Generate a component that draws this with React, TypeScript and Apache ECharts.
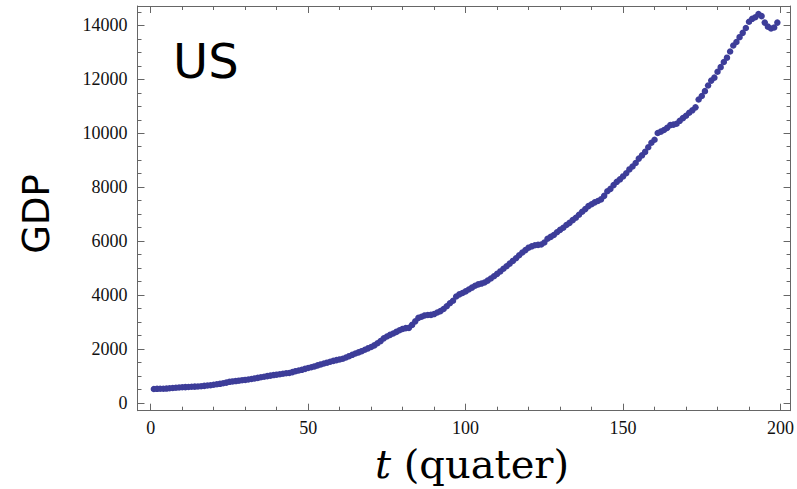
import React, { useEffect, useRef } from "react";
import * as echarts from "echarts";

// US quarterly GDP, t = 1 .. 199
const gdp: number[] = [
  525, 530, 534, 535, 540, 550, 560, 570, 580, 588,
  594, 600, 606, 612, 618, 628, 640, 652, 665, 680,
  698, 716, 738, 760, 790, 805, 818, 832, 846, 860,
  878, 896, 916, 936, 958, 980, 1000, 1020, 1040, 1055,
  1070, 1090, 1108, 1118, 1150, 1185, 1210, 1235, 1270, 1300,
  1330, 1360, 1400, 1435, 1470, 1500, 1535, 1565, 1595, 1620,
  1645, 1690, 1740, 1790, 1840, 1880, 1925, 1980, 2030, 2080,
  2140, 2220, 2300, 2400, 2470, 2530, 2580, 2640, 2700, 2750,
  2780, 2790, 2900, 3030, 3160, 3200, 3250, 3265, 3270, 3300,
  3360, 3410, 3490, 3590, 3700, 3795, 3950, 4030, 4080, 4140,
  4210, 4280, 4350, 4400, 4430, 4470, 4540, 4620, 4700, 4790,
  4880, 4980, 5070, 5170, 5270, 5370, 5480, 5580, 5670, 5760,
  5810, 5850, 5865, 5880, 5950, 6090, 6160, 6230, 6330, 6420,
  6500, 6600, 6680, 6780, 6870, 6980, 7090, 7190, 7300, 7370,
  7440, 7490, 7550, 7680, 7850, 7940, 8080, 8200, 8290, 8400,
  8520, 8660, 8770, 8900, 9060, 9180, 9310, 9480, 9650, 9760,
  10010, 10060, 10120, 10200, 10300, 10320, 10350, 10460, 10560, 10650,
  10760, 10850, 10960, 11250, 11380, 11560, 11770, 11950, 12060, 12280,
  12450, 12640, 12800, 13030, 13250, 13380, 13560, 13720, 13900, 14130,
  14240, 14300, 14420, 14340, 14100, 13950, 13880, 13920, 14100,
];

const xMajorTicks = [0, 50, 100, 150, 200];
const xMinorTicks = [10, 20, 30, 40, 60, 70, 80, 90, 110, 120, 130, 140, 160, 170, 180, 190];
const yMajorTicks = [0, 2000, 4000, 6000, 8000, 10000, 12000, 14000];
const yMinorTicks = [
  500, 1000, 1500, 2500, 3000, 3500, 4500, 5000, 5500, 6500, 7000, 7500,
  8500, 9000, 9500, 10500, 11000, 11500, 12500, 13000, 13500, 14500,
];

const X_MIN = -4.2;
const X_MAX = 203.2;
const Y_MIN = -280;
const Y_MAX = 14715;

const FRAME = "#666666";
const labelFont = { fontFamily: "Liberation Serif", fontSize: 18, color: "#111" };
const plain = (v: number) => String(Math.round(v));

function xAxisDef(position: "top" | "bottom", ticks: number[], len: number, withLine: boolean, labels: boolean) {
  return {
    type: "value",
    position,
    min: X_MIN,
    max: X_MAX,
    axisLine: { show: withLine, onZero: false, lineStyle: { color: FRAME, width: 1 } },
    axisTick: { show: true, inside: true, length: len, customValues: ticks, lineStyle: { color: FRAME, width: 1 } },
    axisLabel: labels
      ? { show: true, customValues: ticks, margin: 8, formatter: plain, ...labelFont }
      : { show: false },
    splitLine: { show: false },
  };
}

function yAxisDef(position: "left" | "right", ticks: number[], len: number, withLine: boolean, labels: boolean) {
  return {
    type: "value",
    position,
    min: Y_MIN,
    max: Y_MAX,
    axisLine: { show: withLine, onZero: false, lineStyle: { color: FRAME, width: 1 } },
    axisTick: { show: true, inside: true, length: len, customValues: ticks, lineStyle: { color: FRAME, width: 1 } },
    axisLabel: labels
      ? { show: true, customValues: ticks, margin: 10, formatter: plain, ...labelFont }
      : { show: false },
    splitLine: { show: false },
  };
}

export default function App() {
  const ref = useRef<HTMLDivElement>(null);

  useEffect(() => {
    if (!ref.current) return;
    const chart = echarts.init(ref.current, null, { renderer: "svg" });
    const points = gdp.map((v, i) => [i + 1, v]);
    chart.setOption({
      animation: false,
      backgroundColor: "#ffffff",
      grid: { left: 137.5, right: 6.3, top: 6, bottom: 78.3, containLabel: false },
      xAxis: [
        xAxisDef("bottom", xMajorTicks, 7, true, true),
        xAxisDef("bottom", xMinorTicks, 4, false, false),
        xAxisDef("top", xMajorTicks, 7, true, false),
        xAxisDef("top", xMinorTicks, 4, false, false),
      ],
      yAxis: [
        yAxisDef("left", yMajorTicks, 7, true, true),
        yAxisDef("left", yMinorTicks, 4, false, false),
        yAxisDef("right", yMajorTicks, 7, true, false),
        yAxisDef("right", yMinorTicks, 4, false, false),
      ],
      series: [
        {
          type: "scatter",
          xAxisIndex: 0,
          yAxisIndex: 0,
          data: points,
          symbol: "circle",
          symbolSize: 6.5,
          itemStyle: { color: "#3d3d99", opacity: 1 },
        },
      ],
      graphic: [
        {
          type: "text",
          x: 173,
          y: 61,
          style: {
            text: "US",
            font: "48px 'DejaVu Sans'",
            fill: "#000",
            align: "left",
            verticalAlign: "middle",
          },
        },
        {
          type: "text",
          x: 36,
          y: 214,
          rotation: Math.PI / 2,
          style: {
            text: "GDP",
            font: "37px 'DejaVu Sans'",
            fill: "#000",
            align: "center",
            verticalAlign: "middle",
          },
        },
        {
          type: "text",
          x: 472,
          y: 464,
          style: {
            text: "{i|t} (quater)",
            fill: "#000",
            align: "center",
            verticalAlign: "middle",
            fontFamily: "DejaVu Serif",
            fontSize: 40,
            rich: {
              i: { fontFamily: "DejaVu Serif", fontStyle: "italic", fontSize: 40 },
            },
          },
        },
      ],
    });
    return () => chart.dispose();
  }, []);

  return (
    <div
      ref={ref}
      style={{ position: "absolute", left: 0, top: 0, width: 797, height: 489 }}
    />
  );
}
